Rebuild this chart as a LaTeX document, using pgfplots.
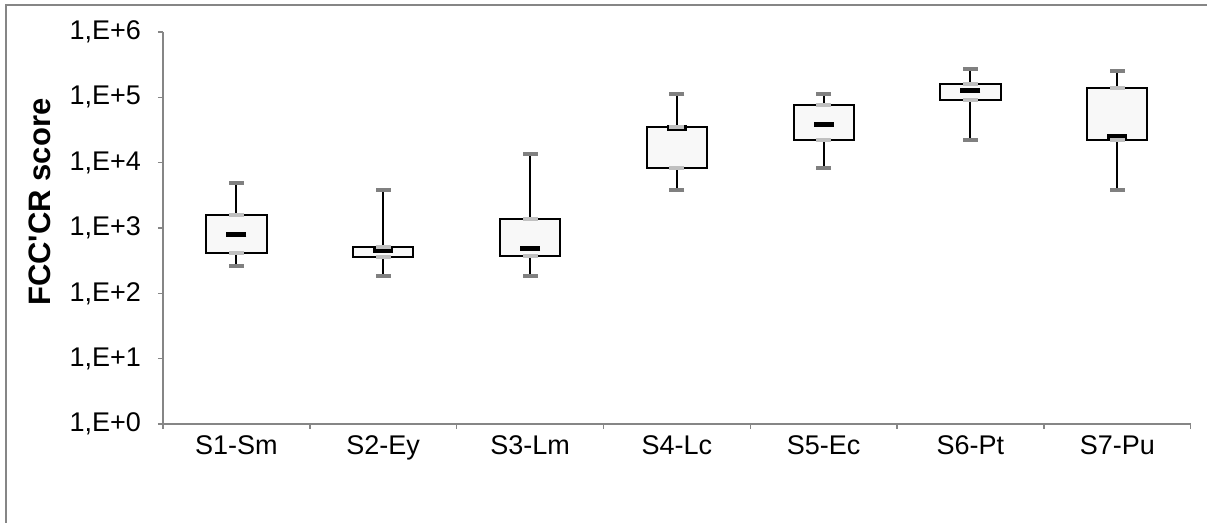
\documentclass[border=0pt]{standalone}
\usepackage{pgfplots}
\pgfplotsset{compat=1.18}
\usepgfplotslibrary{statistics}
\usepackage{pgfplotstable}
\usepackage{fontspec}
\setmainfont{Liberation Sans}[Ligatures=TeXOff]
\definecolor{axgray}{HTML}{868686}
\definecolor{capgray}{HTML}{808080}
\definecolor{qgray}{HTML}{C0C0C0}
\definecolor{boxfill}{HTML}{F8F8F8}

\pgfplotstableread{
x lw q1 med q3 uw
1 262 419 801 1566 4935
2 184 356 450 507 3776
3 186 377 489 1374 13740
4 3776 8200 34000 34770 113700
5 8290 22230 38700 75500 113700
6 22490 91000 126500 160000 271600
7 3776 22230 25300 137500 253000
}\data

\newcommand\bp[6]{\addplot[boxplot prepared={draw position=#1, lower whisker=#2, lower quartile=#3, median=#4, upper quartile=#5, upper whisker=#6}, draw=black, line width=1pt, fill=boxfill] coordinates {};}

\begin{document}
\begin{tikzpicture}
\useasboundingbox (0,0) rectangle (603.5pt,261.5pt);
\draw[axgray, line width=1pt] (3pt,-5pt) -- (3pt,259pt) -- (610pt,259pt);
\begin{axis}[
  at={(81.5pt,49.5pt)}, anchor=south west,
  scale only axis, width=513.85pt, height=196pt,
  ymode=log, ymin=1, ymax=1e6,
  xmin=0.5, xmax=7.5,
  axis lines*=left,
  axis line style={axgray, line width=0.75pt},
  ytick={1,10,100,1000,10000,100000,1000000},
  yticklabels={1{,}E+0,1{,}E+1,1{,}E+2,1{,}E+3,1{,}E+4,1{,}E+5,1{,}E+6},
  yminorticks=false,
  xtick={0.5,1.5,...,7.5},
  x tick label as interval,
  xticklabels={S1-Sm,S2-Ey,S3-Lm,S4-Lc,S5-Ec,S6-Pt,S7-Pu},
  tick align=outside,
  major tick length=2.5pt,
  tick style={axgray, line width=0.75pt},
  tick label style={font=\fontsize{13.5}{16}\selectfont, text=black},
  yticklabel style={xshift=-5pt},
  every axis y label/.style={at={(axis description cs:-0.1197,0.566)}, rotate=90, anchor=center, font=\bfseries\fontsize{15.5}{18}\selectfont},
  ylabel={FCC'CR score},
  boxplot/draw direction=y,
  boxplot/box extend=0.41,
  boxplot/whisker extend=0,
  boxplot/draw/median/.code={},
  clip=false,
]
\bp{1}{262}{419}{801}{1566}{4935}
\bp{2}{184}{356}{450}{507}{3776}
\bp{3}{186}{377}{489}{1374}{13740}
\bp{4}{3776}{8200}{34000}{34770}{113700}
\bp{5}{8290}{22230}{38700}{75500}{113700}
\bp{6}{22490}{91000}{126500}{160000}{271600}
\bp{7}{3776}{22230}{25300}{137500}{253000}
% medians
\addplot[only marks, mark=-, mark size=5pt, mark options={line width=2.75pt, draw=black}] table[x=x, y=med] {\data};
% quartile marks
\addplot[only marks, mark=-, mark size=3.75pt, mark options={line width=2pt, draw=qgray}] table[x=x, y=q1] {\data};
\addplot[only marks, mark=-, mark size=3.75pt, mark options={line width=2pt, draw=qgray}] table[x=x, y=q3] {\data};
% whisker caps
\addplot[only marks, mark=-, mark size=3.75pt, mark options={line width=2pt, draw=capgray}] table[x=x, y=lw] {\data};
\addplot[only marks, mark=-, mark size=3.75pt, mark options={line width=2pt, draw=capgray}] table[x=x, y=uw] {\data};
\end{axis}
\end{tikzpicture}
\end{document}
